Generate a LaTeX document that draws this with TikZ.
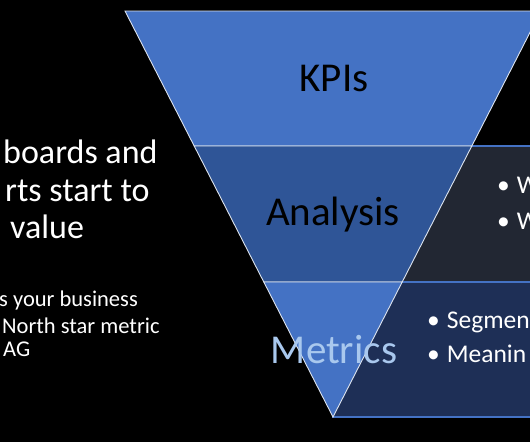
\documentclass[tikz,border=0pt]{standalone}
\usepackage{fontspec}
\setmainfont{Carlito}
\definecolor{kpiblue}{HTML}{4472C4}
\definecolor{anablue}{HTML}{2F5597}
\definecolor{metrictext}{HTML}{A9C8EE}
\definecolor{slatebox}{HTML}{222733}
\definecolor{navybox}{HTML}{1E2F56}
\definecolor{bandline}{HTML}{DCE3EE}

\begin{document}
\begin{tikzpicture}[x=1pt, y=-1pt,
    band/.style={draw=bandline, line width=0.9pt, line join=miter},
    sidebox/.style={draw=kpiblue, line width=1.2pt},
    level/.style={font=\fontsize{41}{45}\selectfont, anchor=base, inner sep=0pt},
    lead/.style={font=\fontsize{34}{38}\selectfont, text=white, anchor=base west, inner sep=0pt},
    note/.style={font=\fontsize{22.5}{26}\selectfont, text=white, anchor=base west, inner sep=0pt},
    point/.style={font=\fontsize{25.5}{30}\selectfont, text=white, anchor=base west, inner sep=0pt}
]

\useasboundingbox[fill=black] (0,0) rectangle (530,442);
\clip (0,0) rectangle (530,442);

% boxes behind the funnel
\filldraw[sidebox, fill=slatebox] (400,146) rectangle (545,282);
\filldraw[sidebox, fill=navybox] (333,282) rectangle (545,417);

% funnel bands
\coordinate (tl) at (125,11);
\coordinate (tr) at (541,11);
\coordinate (apex) at (333,417);
\coordinate (al) at (194.2,146);
\coordinate (ar) at (471.8,146);
\coordinate (ml) at (263.8,282);
\coordinate (mr) at (402.2,282);

\filldraw[band, fill=kpiblue] (tl) -- (tr) -- (ar) -- (al) -- cycle;
\filldraw[band, fill=anablue] (al) -- (ar) -- (mr) -- (ml) -- cycle;
\filldraw[band, fill=kpiblue] (ml) -- (mr) -- (apex) -- cycle;

% funnel labels
\node[level, text=black] (kpis) at (334,91) {KPIs};
\node[level, text=black] (analysis) at (333,225) {Analysis};
\node[level, text=metrictext] (metrics) at (334,363) {Metrics};

% left text
\node[lead] (lineA) at (3,163) {boards and};
\node[lead] (lineB) at (5,201) {rts start to};
\node[lead] (lineC) at (10,238) {value};

\node[note] (noteA) at (-1,306) {s your business};
\node[note] (noteB) at (2,333) {North star metric};
\node[note] (noteC) at (3,356) {AG};

% bullets
\node[point] (whatA) at (497,193) {\textbullet\hspace{7pt}W};
\node[point] (whatB) at (497,229) {\textbullet\hspace{7pt}W};
\node[point] (segA) at (427,328) {\textbullet\hspace{7pt}Segmen};
\node[point] (segB) at (427,362) {\textbullet\hspace{7pt}Meanin};

\end{tikzpicture}
\end{document}
